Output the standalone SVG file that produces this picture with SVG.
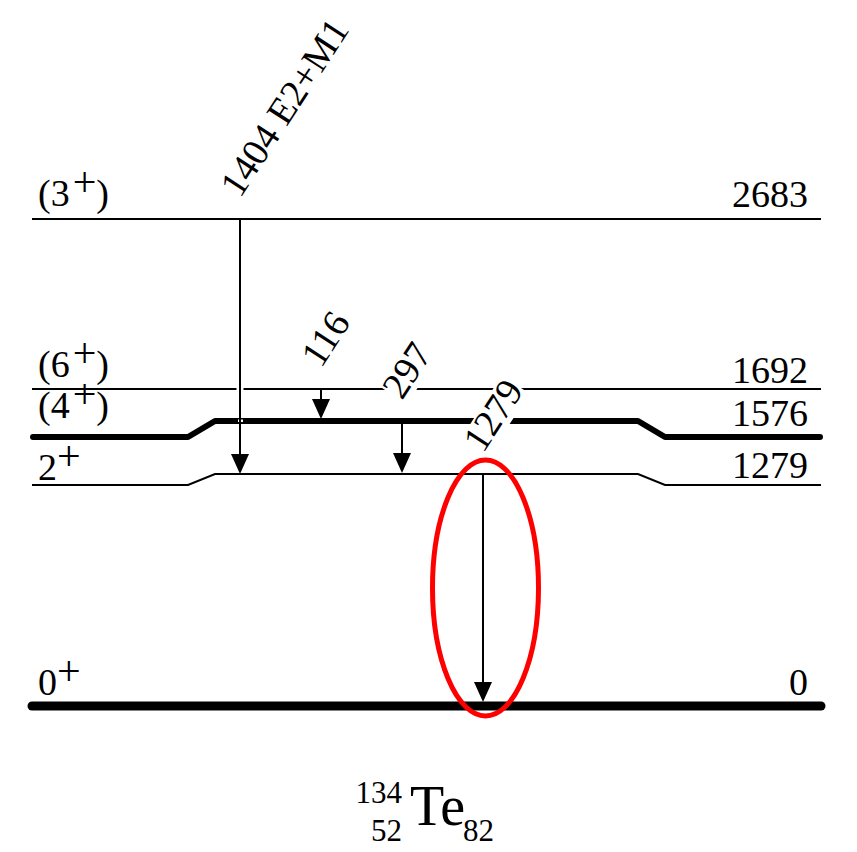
<svg xmlns="http://www.w3.org/2000/svg" width="857" height="852" viewBox="0 0 857 852" font-family="'Liberation Serif', 'Times New Roman', 'DejaVu Serif', serif">
<style>
text{font-family:'Liberation Serif','Times New Roman','DejaVu Serif',serif;fill:#000}
.lbl{font-size:38px}
.sup{font-size:42px}
.lvl{fill:none;stroke:#000;stroke-width:2}
.thick{fill:none;stroke:#000;stroke-width:6;stroke-linejoin:round;stroke-linecap:round}
.gnd{fill:none;stroke:#000;stroke-width:9;stroke-linecap:round}
.arr{stroke:#000;stroke-width:2;fill:none}
.head{fill:#000}
.box{fill:#fff}
</style>
<rect width="857" height="852" fill="#fff"/>
<g id="levels">
  <g id="level-2683"><line class="lvl" x1="32" y1="219" x2="821" y2="219"/></g>
  <g id="level-1692"><line class="lvl" x1="32" y1="389" x2="821" y2="389"/></g>
  <g id="level-1576"><polyline class="thick" points="33,437 188,437 215,421 638,421 665,437 820,437"/></g>
  <g id="level-1279"><polyline class="lvl" points="32,485 188,485 215,474 638,474 665,485 821,485"/></g>
  <g id="level-0"><line class="gnd" x1="32" y1="706" x2="821" y2="706"/></g>
</g>
<g id="level-labels">
  <text class="lbl" x="38" y="206">(3<tspan class="sup" dx="3" dy="-10">+</tspan><tspan dy="10">)</tspan></text>
  <text class="lbl" x="38" y="377">(6<tspan class="sup" dx="3" dy="-10">+</tspan><tspan dy="10">)</tspan></text>
  <text class="lbl" x="38" y="418">(4<tspan class="sup" dx="3" dy="-10">+</tspan><tspan dy="10">)</tspan></text>
  <text class="lbl" x="38" y="480">2<tspan class="sup" dy="-10">+</tspan></text>
  <text class="lbl" x="38" y="695">0<tspan class="sup" dy="-10">+</tspan></text>
  <text class="lbl" x="808" y="207" text-anchor="end">2683</text>
  <text class="lbl" x="808" y="383" text-anchor="end">1692</text>
  <text class="lbl" x="808" y="426" text-anchor="end">1576</text>
  <text class="lbl" x="808" y="478" text-anchor="end">1279</text>
  <text class="lbl" x="808" y="695" text-anchor="end">0</text>
</g>
<g id="connectors">
  <g id="g1404">
    <rect class="box" x="236.5" y="387" width="7" height="4"/>
    <rect class="box" x="238" y="419.5" width="5" height="2.5"/>
    <line class="arr" x1="240" y1="219" x2="240" y2="456"/>
    <polygon class="head" points="240,474 231,454 249,454"/>
    <g transform="translate(240,199) rotate(-57)">
      <rect class="box" x="0" y="-27" width="200" height="33"/>
      <text class="lbl" x="0" y="0">1404 E2+M1</text>
    </g>
  </g>
  <g id="g116">
    <line class="arr" x1="321" y1="389" x2="321" y2="402"/>
    <polygon class="head" points="321,419 312,399 330,399"/>
    <g transform="translate(321,369) rotate(-57)">
      <rect class="box" x="0" y="-27" width="57" height="33"/>
      <text class="lbl" x="0" y="0">116</text>
    </g>
  </g>
  <g id="g297">
    <line class="arr" x1="402" y1="421" x2="402" y2="456"/>
    <polygon class="head" points="402,473 393,453 411,453"/>
    <g transform="translate(402,401) rotate(-57)">
      <rect class="box" x="0" y="-27" width="57" height="33"/>
      <text class="lbl" x="0" y="0">297</text>
    </g>
  </g>
  <g id="g1279">
    <line class="arr" x1="483" y1="474" x2="483" y2="685"/>
    <polygon class="head" points="483,702 474,682 492,682"/>
    <g transform="translate(483,454) rotate(-57)">
      <rect class="box" x="0" y="-27" width="76" height="33"/>
      <text class="lbl" x="0" y="0">1279</text>
    </g>
  </g>
</g>
<g id="highlight">
  <ellipse cx="485.5" cy="588" rx="53" ry="128" fill="none" stroke="#f00" stroke-width="5"/>
</g>
<g id="title">
  <text x="402" y="803" font-size="31" text-anchor="end">134</text>
  <text x="402" y="841" font-size="31" text-anchor="end">52</text>
  <text x="410" y="825" font-size="56">Te</text>
  <text x="463" y="841" font-size="31">82</text>
</g>
</svg>
